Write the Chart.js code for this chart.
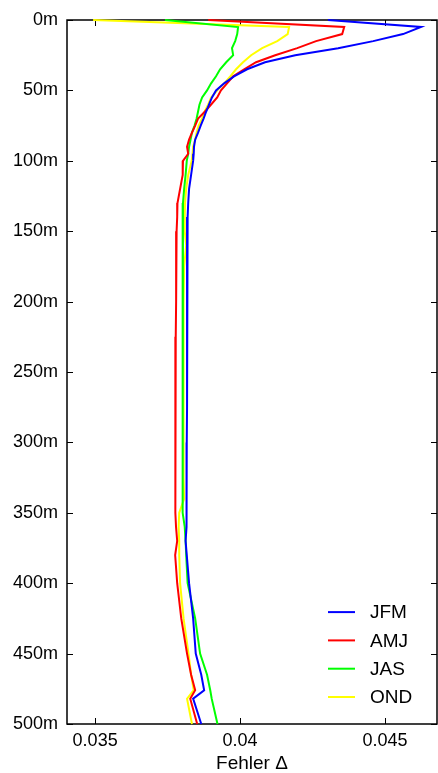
<!DOCTYPE html>
<html>
<head>
<meta charset="utf-8">
<script src="https://cdn.jsdelivr.net/npm/chart.js@4/dist/chart.umd.min.js"></script>
<style>
	html, body { margin: 0; padding: 0; background: #fff; }
	canvas { display: block; }
</style>
</head>
<body>
<canvas id="chart" width="438" height="773"></canvas>
<script>
// depth levels (m) and error values per season
const depths = [0, 5, 10, 15, 20, 25, 30, 35, 40, 45, 50, 55, 60, 65, 70, 75, 80, 85, 90, 95,
	100, 110, 120, 130, 140, 150, 160, 175, 200, 225, 250, 275, 300, 325, 340, 350, 360, 370, 380,
	400, 425, 450, 465, 476, 482, 500];

const jfm = [0.04303, 0.04624, 0.04562, 0.04459, 0.04338, 0.04190, 0.04086, 0.04024, 0.03979, 0.03945,
	0.03917, 0.03903, 0.03893, 0.03883, 0.03874, 0.03864, 0.03855, 0.03845, 0.03841, 0.03840,
	0.03838, 0.03831, 0.03824, 0.03821, 0.03819, 0.03817, 0.03817, 0.03817, 0.03817, 0.03817,
	0.03817, 0.03817, 0.03816, 0.03816, 0.03815, 0.03815, 0.03815, 0.03812, 0.03816,
	0.03824, 0.03838, 0.03847, 0.03866, 0.03876, 0.03838, 0.03866];

const amj = [0.03890, 0.04359, 0.04352, 0.04262, 0.04197, 0.04121, 0.04055, 0.04014, 0.03976, 0.03955,
	0.03934, 0.03921, 0.03900, 0.03879, 0.03855, 0.03845, 0.03834, 0.03824, 0.03817, 0.03821,
	0.03803, 0.03802, 0.03793, 0.03784, 0.03783, 0.03781, 0.03780, 0.03779, 0.03779, 0.03778,
	0.03778, 0.03777, 0.03777, 0.03776, 0.03776, 0.03776, 0.03779, 0.03783, 0.03776,
	0.03783, 0.03797, 0.03817, 0.03831, 0.03845, 0.03828, 0.03852];

const jas = [0.03741, 0.03993, 0.03990, 0.03983, 0.03972, 0.03976, 0.03952, 0.03931, 0.03917, 0.03900,
	0.03886, 0.03869, 0.03860, 0.03855, 0.03850, 0.03843, 0.03834, 0.03829, 0.03824, 0.03821,
	0.03816, 0.03812, 0.03807, 0.03803, 0.03803, 0.03802, 0.03802, 0.03802, 0.03802, 0.03802,
	0.03802, 0.03801, 0.03801, 0.03801, 0.03802, 0.03802, 0.03809, 0.03812, 0.03814,
	0.03819, 0.03845, 0.03862, 0.03886, 0.03897, 0.03902, 0.03922];

const ond = [0.03493, 0.04169, 0.04164, 0.04128, 0.04076, 0.04038, 0.04010, 0.03986, 0.03966, 0.03945,
	0.03921, 0.03900, 0.03890, 0.03878, 0.03869, 0.03857, 0.03850, 0.03845, 0.03838, 0.03836,
	0.03833, 0.03821, 0.03814, 0.03810, 0.03809, 0.03809, 0.03814, 0.03807, 0.03805, 0.03805,
	0.03805, 0.03805, 0.03805, 0.03805, 0.03807, 0.03790, 0.03788, 0.03790, 0.03790,
	0.03793, 0.03805, 0.03822, 0.03831, 0.03840, 0.03817, 0.03834];

const seasonLabels = ["JFM", "AMJ", "JAS", "OND"];
const seasonColors = ["#0000ff", "#ff0000", "#00ff00", "#ffff00"];
const xTickValues = [0.035, 0.04, 0.045];
const yTickValues = [0, 50, 100, 150, 200, 250, 300, 350, 400, 450, 500];
const xTitle = "Fehler Δ";

const FONT = "'Liberation Sans', Arial, sans-serif";

const series = [jfm, amj, jas, ond];
const datasets = series.map((vals, i) => ({
	label: seasonLabels[i]
	, data: depths.map((d, k) => ({ x: vals[k], y: d }))
	, borderColor: seasonColors[i]
	, backgroundColor: seasonColors[i]
	, borderWidth: 2
	, pointRadius: 0
	, showLine: true
	, tension: 0
	, clip: false
}));

// frame with inward ticks, gnuplot style
const framePlugin = {
	id: "frame"
	, beforeDatasetsDraw(chart) {
		const { ctx, chartArea: a, scales } = chart;
		ctx.save();
		ctx.strokeStyle = "#000";
		ctx.lineWidth = 1;
		ctx.beginPath();
		yTickValues.forEach(v => {
			const y = Math.round(scales.y.getPixelForValue(v)) + 0.5;
			ctx.moveTo(a.left, y); ctx.lineTo(a.left + 6, y);
			ctx.moveTo(a.right, y); ctx.lineTo(a.right - 6, y);
		});
		xTickValues.forEach(v => {
			const x = Math.round(scales.x.getPixelForValue(v)) + 0.5;
			ctx.moveTo(x, a.top); ctx.lineTo(x, a.top + 6);
			ctx.moveTo(x, a.bottom); ctx.lineTo(x, a.bottom - 6);
		});
		ctx.stroke();
		ctx.lineWidth = 1.5;
		ctx.strokeRect(a.left, a.top, a.right - a.left, a.bottom - a.top);
		ctx.restore();
	}
	, afterDatasetsDraw(chart) {
		const { ctx, chartArea: a } = chart;
		ctx.save();
		ctx.font = "19px " + FONT;
		ctx.textBaseline = "middle";
		ctx.fillStyle = "#000";
		chart.data.datasets.forEach((ds, i) => {
			const y = a.bottom - 27 - (chart.data.datasets.length - 1 - i) * 28.3;
			ctx.strokeStyle = ds.borderColor;
			ctx.lineWidth = 2;
			ctx.beginPath();
			ctx.moveTo(a.right - 109, y);
			ctx.lineTo(a.right - 82, y);
			ctx.stroke();
			ctx.fillText(ds.label, a.right - 67, y + 1);
		});
		ctx.restore();
	}
};

new Chart(document.getElementById("chart"), {
	type: "scatter"
	, data: { datasets }
	, options: {
		responsive: false
		, animation: false
		, layout: { padding: { top: 20, right: 1, left: 0, bottom: 0 } }
		, plugins: {
			legend: { display: false }
			, tooltip: { enabled: false }
		}
		, scales: {
			x: {
				type: "linear"
				, min: 0.03403
				, max: 0.04679
				, afterBuildTicks: s => { s.ticks = xTickValues.map(v => ({ value: v })); }
				, afterFit: s => { s.height = 49; }
				, grid: { display: false, drawTicks: false, tickLength: 0 }
				, border: { display: false }
				, ticks: {
					color: "#000"
					, padding: 6
					, font: { family: FONT, size: 18 }
					, callback: v => String(v)
				}
				, title: {
					display: true
					, text: xTitle
					, color: "#000"
					, font: { family: FONT, size: 19, lineHeight: 1 }
					, padding: { top: 0, bottom: 0 }
				}
			}
			, y: {
				type: "linear"
				, reverse: true
				, min: 0
				, max: 500
				, afterBuildTicks: s => { s.ticks = yTickValues.map(v => ({ value: v })); }
				, afterFit: s => { s.width = 67; }
				, grid: { display: false, drawTicks: false, tickLength: 0 }
				, border: { display: false }
				, ticks: {
					color: "#000"
					, padding: 9
					, font: { family: FONT, size: 18 }
					, callback: v => v + "m"
				}
			}
		}
	}
	, plugins: [framePlugin]
});
</script>
</body>
</html>
